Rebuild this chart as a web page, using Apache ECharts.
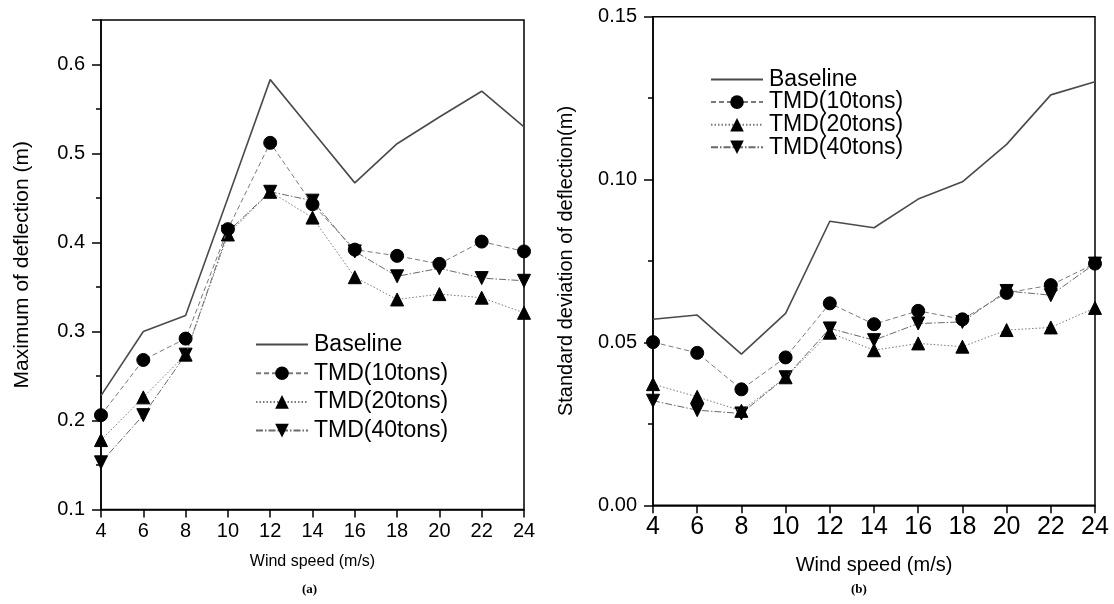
<!DOCTYPE html>
<html>
<head>
<meta charset="utf-8">
<script src="https://cdn.jsdelivr.net/npm/echarts@6/dist/echarts.min.js"></script>
<style>html,body{margin:0;padding:0;background:#fff}#c{width:1114px;height:604px}</style>
</head>
<body>
<div id="c"></div>
<script>
var windSpeed = [4, 6, 8, 10, 12, 14, 16, 18, 20, 22, 24];
var seriesNames = ['Baseline', 'TMD(10tons)', 'TMD(20tons)', 'TMD(40tons)'];

// (a) Maximum of deflection (m)
var aBaseline = [0.228, 0.300, 0.318, 0.450, 0.583, 0.525, 0.467, 0.511, 0.541, 0.570, 0.530];
var aTmd10   = [0.206, 0.268, 0.292, 0.415, 0.512, 0.443, 0.392, 0.385, 0.376, 0.401, 0.390];
var aTmd20   = [0.178, 0.226, 0.274, 0.409, 0.457, 0.428, 0.361, 0.336, 0.342, 0.338, 0.321];
var aTmd40   = [0.153, 0.206, 0.274, 0.412, 0.457, 0.447, 0.390, 0.362, 0.371, 0.360, 0.357];

// (b) Standard deviation of deflection (m)
var bBaseline = [0.0571, 0.0584, 0.0464, 0.0589, 0.0872, 0.0852, 0.0940, 0.0993, 0.1108, 0.1260, 0.1300];
var bTmd10   = [0.0501, 0.0468, 0.0356, 0.0454, 0.0620, 0.0556, 0.0597, 0.0571, 0.0652, 0.0676, 0.0742];
var bTmd20   = [0.0372, 0.0333, 0.0290, 0.0393, 0.0530, 0.0476, 0.0497, 0.0487, 0.0538, 0.0546, 0.0606];
var bTmd40   = [0.0321, 0.0292, 0.0282, 0.0393, 0.0543, 0.0507, 0.0558, 0.0563, 0.0658, 0.0645, 0.0742];

var FONT = '"Liberation Sans", Arial, sans-serif';

function pairs(vals) { return windSpeed.map(function (x, i) { return [x, vals[i]]; }); }

var styles = [
  { symbol: 'none', lineColor: '#4a4a4a', lineWidth: 1.6, type: 'solid', rotate: 0 },
  { symbol: 'circle', lineColor: '#7a7a7a', lineWidth: 1, type: [5, 3], rotate: 0 },
  { symbol: 'triangle', lineColor: '#7a7a7a', lineWidth: 1, type: [1.5, 2], rotate: 0 },
  { symbol: 'triangle', lineColor: '#6a6a6a', lineWidth: 1, type: [7, 2, 1.5, 2], rotate: 180 }
];

function makeSeries(dataArr, axisIdx) {
  return dataArr.map(function (vals, k) {
    var s = styles[k];
    return {
      name: seriesNames[k],
      type: 'line',
      xAxisIndex: axisIdx,
      yAxisIndex: axisIdx,
      data: pairs(vals),
      symbol: s.symbol,
      symbolSize: 13,
      symbolRotate: s.rotate,
      showSymbol: s.symbol !== 'none',
      lineStyle: { color: s.lineColor, width: s.lineWidth, type: s.type },
      itemStyle: { color: '#000', borderColor: '#000' },
      emphasis: { disabled: true },
      animation: false,
      z: 5 - k
    };
  });
}

function xAxis(gridIdx, labelSize, nameSize, nameGap, labelMargin) {
  return {
    type: 'value', gridIndex: gridIdx, min: 4, max: 24, interval: 2,
    name: 'Wind speed (m/s)', nameLocation: 'middle', nameGap: nameGap,
    nameTextStyle: { fontFamily: FONT, fontSize: nameSize, color: '#000' },
    axisLine: { show: true, onZero: false, lineStyle: { color: '#000', width: 1.5 } },
    axisTick: { show: true, length: 8, lineStyle: { color: '#000', width: 1.5 } },
    axisLabel: { fontFamily: FONT, fontSize: labelSize, color: '#000', margin: labelMargin },
    splitLine: { show: false }
  };
}

function legendData() {
  return seriesNames.map(function (n, k) {
    return k === 0 ? { name: n, itemStyle: { opacity: 0 } } : { name: n };
  });
}

var option = {
  backgroundColor: '#fff',
  animation: false,
  grid: [
    { left: 101, right: 590, top: 20, bottom: 94.5, show: true, borderColor: '#000', borderWidth: 1.5, backgroundColor: 'transparent' },
    { left: 653, right: 19, top: 16.7, bottom: 98.7, show: true, borderColor: '#000', borderWidth: 1.5, backgroundColor: 'transparent' }
  ],
  xAxis: [
    xAxis(0, 20, 16, 44, 12),
    xAxis(1, 25, 20, 50, 9)
  ],
  yAxis: [
    {
      type: 'value', gridIndex: 0, min: 0.1, max: 0.65, interval: 0.1,
      name: 'Maximum of deflection (m)', nameLocation: 'middle', nameGap: 68,
      nameTextStyle: { fontFamily: FONT, fontSize: 21, color: '#000' },
      axisLine: { show: true, lineStyle: { color: '#000', width: 1.5 } },
      axisTick: { show: true, length: 9, lineStyle: { color: '#000', width: 1.5 } },
      minorTick: { show: true, splitNumber: 2, length: 5, lineStyle: { color: '#000', width: 1.5 } },
      axisLabel: { fontFamily: FONT, fontSize: 20, color: '#000', margin: 16, showMaxLabel: false,
        formatter: function (v) { return v.toFixed(1); } },
      splitLine: { show: false }, minorSplitLine: { show: false }
    },
    {
      type: 'value', gridIndex: 1, min: 0, max: 0.15, interval: 0.05,
      name: 'Standard deviation of deflection(m)', nameLocation: 'middle', nameGap: 77,
      nameTextStyle: { fontFamily: FONT, fontSize: 20, color: '#000' },
      axisLine: { show: true, lineStyle: { color: '#000', width: 1.5 } },
      axisTick: { show: true, length: 9, lineStyle: { color: '#000', width: 1.5 } },
      minorTick: { show: true, splitNumber: 2, length: 5, lineStyle: { color: '#000', width: 1.5 } },
      axisLabel: { fontFamily: FONT, fontSize: 20, color: '#000', margin: 16,
        formatter: function (v) { return v.toFixed(2); } },
      splitLine: { show: false }, minorSplitLine: { show: false }
    }
  ],
  legend: [
    {
      orient: 'vertical', left: 250, top: 328, itemWidth: 52, itemHeight: 17, itemGap: 5.7,
      data: legendData(), selectedMode: false,
      textStyle: { fontFamily: FONT, fontSize: 23, color: '#000', lineHeight: 20, padding: [0, 0, 0, 1] }
    },
    {
      orient: 'vertical', left: 705, top: 63, itemWidth: 52, itemHeight: 17, itemGap: -0.4,
      data: legendData(), selectedMode: false,
      textStyle: { fontFamily: FONT, fontSize: 23, color: '#000', lineHeight: 20, padding: [0, 0, 0, 1] }
    }
  ],
  graphic: [
    { type: 'text', left: 302, top: 583, style: { text: '(a)', font: 'bold 13px "Liberation Serif", "Times New Roman", serif', fill: '#000' } },
    { type: 'text', left: 851, top: 583, style: { text: '(b)', font: 'bold 13px "Liberation Serif", "Times New Roman", serif', fill: '#000' } }
  ],
  series: makeSeries([aBaseline, aTmd10, aTmd20, aTmd40], 0)
    .concat(makeSeries([bBaseline, bTmd10, bTmd20, bTmd40], 1))
};

var chart = echarts.init(document.getElementById('c'), null, { renderer: 'canvas' });
chart.setOption(option);
</script>
</body>
</html>
